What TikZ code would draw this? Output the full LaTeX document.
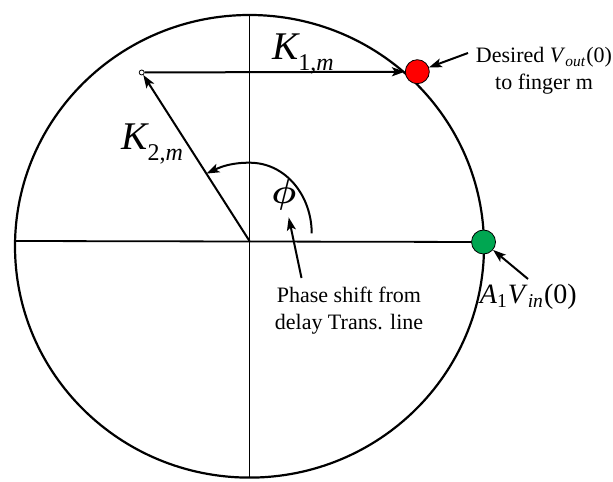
\documentclass[tikz,border=0pt]{standalone}
\usepackage{fontspec}
\setmainfont{Liberation Serif}
\usetikzlibrary{arrows.meta,calc}
\definecolor{voutred}{HTML}{FF0000}
\definecolor{vingreen}{HTML}{00A651}
\newcommand{\kmag}[1]{{\fontsize{19.6}{20}\selectfont\itshape K}\raisebox{-5.5pt}{\fontsize{12}{12}\selectfont#1,\itshape m}}
\tikzset{
  axisline/.style={line width=0.9pt},
  vec/.style={-{Stealth[length=6.5pt,width=4.5pt,inset=1.5pt]}, line width=1pt},
  dot/.style={circle, draw=black, line width=0.4pt, minimum size=12pt, inner sep=0pt},
  note/.style={font=\fontsize{11}{13.5}\selectfont, align=center, inner sep=0pt},
}
\begin{document}
\begin{tikzpicture}[x=0.5pt, y=0.5pt]
  \useasboundingbox (0,0) rectangle (613,481);
  % circle and axes
  \draw[line width=1.1pt] (249.5,234.7) ellipse [x radius=234.5, y radius=231.3];
  \coordinate (o) at (249.5,240);
  \coordinate (xleft) at (15,240);
  \coordinate (ytop) at (249.5,466);
  \coordinate (ybot) at (249.5,3.4);
  \node[dot, fill=voutred] (vout) at (417.3,409.3) {};
  \node[dot, fill=vingreen] (vin) at (483.5,239) {};
  \node[circle, draw, fill=white, minimum size=2.5pt, inner sep=0pt, line width=0.4pt] (tip) at (141.7,408.5) {};
  \draw[axisline] (xleft) -- (vin);
  \draw[axisline] (ytop) -- (ybot);
  % vectors
  \draw[vec] (tip) -- (vout);
  \draw[vec] (o) -- (tip);
  \coordinate (arcstart) at (311.7,247.7);
  \coordinate (arctop) at (249.5,318.3);
  \coordinate (arcend) at ($(o)!0.4!(tip)$);
  \draw[vec] (arcstart) to[out=90, in=0] (arctop) to[out=180, in=25] (arcend);
  \node[font=\boldmath\fontsize{17.28}{18}\selectfont] (phi) at (284,286) {$\phi$};
  \node[anchor=base west, inner sep=0pt] (k1) at (271.7,421.7) {\kmag{1}};
  \node[anchor=base west, inner sep=0pt] (k2) at (121,331.7) {\kmag{2}};
  % labels
  \node[note] (phase) at (349,170) {Phase shift from\\delay Trans. line};
  \coordinate (phtail) at (301.5,203);
  \draw[vec] (phtail) -- (phi);
  \node[note] (desired) at (544,410) {Desired \textit{V}\textsubscript{\textit{out}}(0)\\to finger m};
  \coordinate (dtail) at (468,428);
  \draw[vec] (dtail) -- (vout);
  \node[anchor=base, inner sep=0pt, font=\fontsize{14}{16}\selectfont] (avin) at (528.3,177.7) {\textit{A}\textsubscript{1}\textit{V}\textsubscript{\textit{in}}(0)};
  \coordinate (atail) at (528,202);
  \draw[vec] (atail) -- (vin);
\end{tikzpicture}
\end{document}
